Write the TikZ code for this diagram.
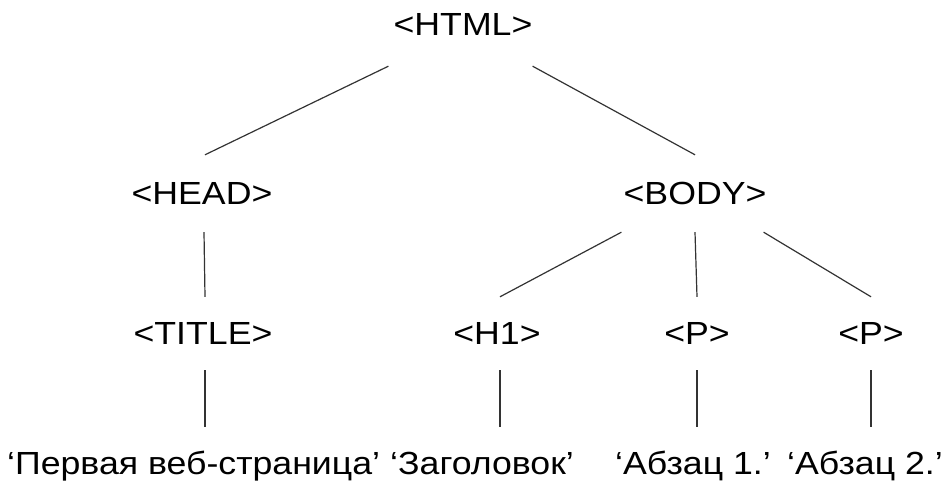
\documentclass[tikz,border=0pt]{standalone}
\usepackage{fontspec}
\setmainfont{Liberation Sans}[FakeStretch=1.115]
\begin{document}
\begin{tikzpicture}[x=1pt,y=1pt,
  tag/.style={inner xsep=0pt, inner ysep=27pt, text height=23pt, text depth=0pt, anchor=base, font=\fontsize{32}{32}\selectfont, text=black},
  leaf/.style={inner xsep=0pt, inner ysep=23.5pt, text height=23pt, text depth=0pt, anchor=base west, font=\fontsize{32}{32}\selectfont, text=black},
  edge/.style={line width=1.2pt, draw=black!80}]
\useasboundingbox (0,0) rectangle (947,482);
% y = 482 - baseline
\node[tag, inner ysep=30pt] (html) at (463,446) {<HTML>};
\node[tag] (head) at (202,277) {<HEAD>};
\node[tag] (body) at (695,277) {<BODY>};
\node[tag, inner ysep=25pt] (title) at (203,137) {<TITLE>};
\node[tag, inner ysep=25pt] (h1) at (497,137) {<H1>};
\node[tag, inner ysep=25pt] (p1) at (697,137) {<P>};
\node[tag, inner ysep=25pt] (p2) at (871,137) {<P>};
\node[leaf] (l1) at (7,8) {‘Первая веб-страница’};
\node[leaf] (l2) at (390,8) {‘Заголовок’};
\node[leaf] (l3) at (615,8) {‘Абзац 1.’};
\node[leaf] (l4) at (787,8) {‘Абзац 2.’};
\draw[edge] ([xshift=-5pt]html.south west) -- ([xshift=3pt]head.north);
\draw[edge] (html.south east) -- (body.north);
\draw[edge] ([xshift=2pt]head.south) -- ([xshift=2pt]title.north);
\draw[edge] ([xshift=-2pt]body.south west) -- ([xshift=3pt]h1.north);
\draw[edge] (body.south) -- (p1.north);
\draw[edge] ([xshift=-3pt]body.south east) -- (p2.north);
\draw[edge] ([xshift=2pt]title.south) -- ([xshift=2pt]title.south |- l1.north);
\draw[edge] ([xshift=3pt]h1.south) -- ([xshift=3pt]h1.south |- l2.north);
\draw[edge] (p1.south) -- (p1.south |- l3.north);
\draw[edge] (p2.south) -- (p2.south |- l4.north);
\end{tikzpicture}
\end{document}
